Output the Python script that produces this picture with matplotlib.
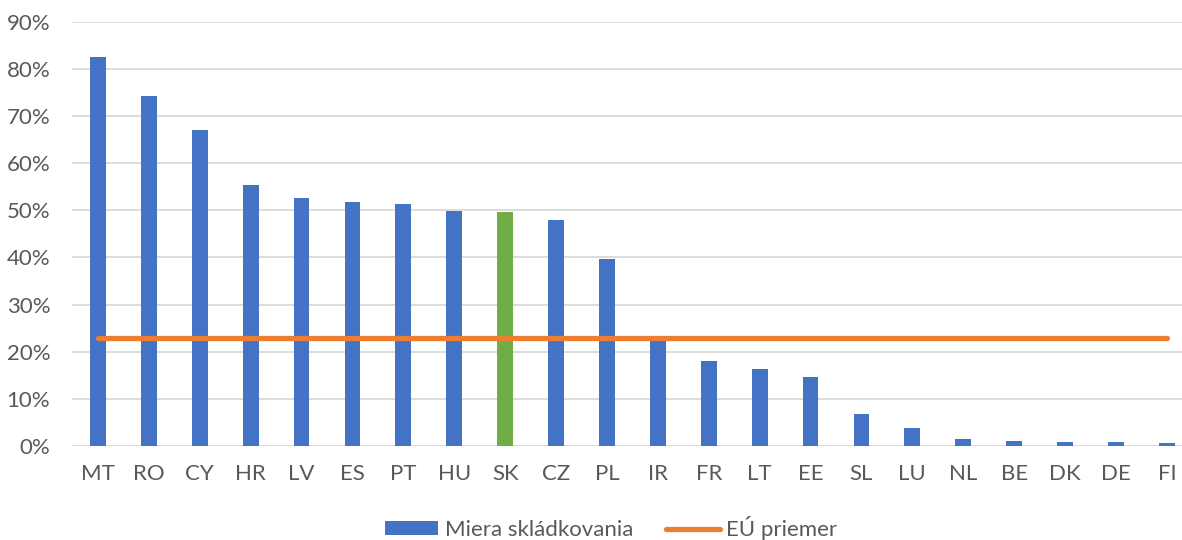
import matplotlib
matplotlib.use("Agg")
import matplotlib.pyplot as plt
from matplotlib.ticker import FuncFormatter, MultipleLocator
from matplotlib.patches import Patch
from matplotlib.lines import Line2D

countries = ["MT", "RO", "CY", "HR", "LV", "ES", "PT", "HU", "SK", "CZ", "PL",
             "IR", "FR", "LT", "EE", "SL", "LU", "NL", "BE", "DK", "DE", "FI"]
landfill_rate = [82.5, 74.3, 67.0, 55.5, 52.7, 51.8, 51.3, 49.9, 49.6, 48.0, 39.7,
                 22.4, 18.1, 16.2, 14.7, 6.7, 3.8, 1.4, 1.1, 0.85, 0.7, 0.5]
eu_average = 22.8
highlight = "SK"

blue = "#4472C4"
green = "#70AD47"
orange = "#ED7D31"
gray_text = "#595959"

plt.rcParams['font.family'] = ['Lato', 'DejaVu Sans']

fig = plt.figure(figsize=(11.82, 5.40), dpi=100)
ax = fig.add_axes([0.0613, 0.1746, 0.9474, 0.7844])

x = list(range(len(countries)))
colors = [green if c == highlight else blue for c in countries]
ax.bar(x, landfill_rate, width=0.31, color=colors, zorder=2)
ax.plot(x, [eu_average] * len(x), color=orange, linewidth=3.8,
        solid_capstyle='round', zorder=3)

ax.set_xlim(-0.5, len(countries) - 0.5)
ax.set_ylim(0, 90)
ax.yaxis.set_major_locator(MultipleLocator(10))
ax.yaxis.set_major_formatter(FuncFormatter(lambda v, p: f"{int(round(v))}%"))
ax.set_xticks(x)
ax.set_xticklabels(countries)
ax.grid(axis='y', color='#D9D9D9', linewidth=1.3, zorder=0)
ax.set_axisbelow(True)
for s in ax.spines.values():
    s.set_visible(False)
ax.tick_params(axis='both', length=0, labelsize=16, colors=gray_text)
ax.tick_params(axis='x', pad=13)
ax.tick_params(axis='y', pad=16)

handles = [Patch(facecolor=blue, edgecolor='none'),
           Line2D([0], [0], color=orange, linewidth=3.8, solid_capstyle='round')]
fig.legend(handles, ["Miera skládkovania", "EÚ priemer"], loc='center',
           bbox_to_anchor=(0.517, 0.022), ncol=2, frameon=False, fontsize=16,
           labelcolor=gray_text, handlelength=2.4, handleheight=0.6,
           columnspacing=1.5, handletextpad=0.3, borderpad=0)

fig.savefig("out.png", dpi=100)
